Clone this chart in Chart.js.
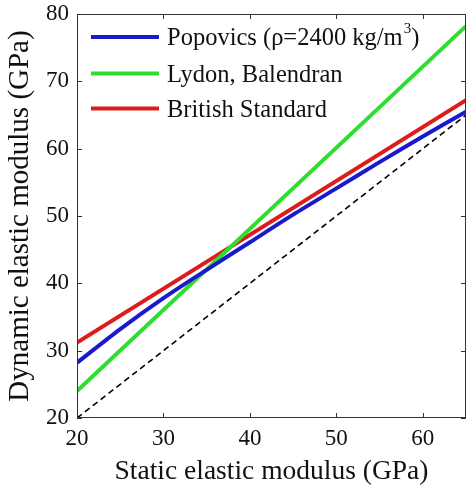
<!DOCTYPE html>
<html>
<head>
<meta charset="utf-8">
<script src="https://cdn.jsdelivr.net/npm/chart.js@4.4.0/dist/chart.umd.min.js"></script>
<style>
html,body{margin:0;padding:0;background:#fff;}
#wrap{width:474px;height:488px;position:relative;}
</style>
</head>
<body>
<div id="wrap"><canvas id="c" width="474" height="488"></canvas></div>
<script>
// Static elastic modulus (GPa) sample positions
const staticX = [20, 25, 30, 35, 40, 45, 50, 55, 60, 65];
// Dynamic elastic modulus (GPa)
const popovicsY = [28.2, 33.2, 37.8, 42.0, 46.1, 50.2, 54.1, 58.0, 61.8, 65.5];
const lydonX = [20, 65];
const lydonY = [24.0, 78.2];
const britishX = [20, 65];
const britishY = [31.2, 67.2];
const equalX = [20, 65];
const equalY = [20, 65];
const seriesLabels = ['Popovics (ρ=2400 kg/m³)', 'Lydon, Balendran', 'British Standard'];
const xTicks = [20, 30, 40, 50, 60];
const yTicks = [20, 30, 40, 50, 60, 70, 80];

const pts = (xs, ys) => xs.map((x, i) => ({x: x, y: ys[i]}));
const FONT = "'Liberation Serif', 'DejaVu Serif', serif";

const frame = {
  id: 'frame',
  afterDatasetsDraw(chart) {
    const {ctx, chartArea: a, scales} = chart;
    ctx.save();
    ctx.strokeStyle = '#333';
    ctx.lineWidth = 1;
    ctx.strokeRect(a.left + 0.5, a.top + 0.5, a.right - a.left - 1, a.bottom - a.top - 1);
    const L = 5;
    ctx.beginPath();
    xTicks.forEach(v => {
      const px = Math.round(scales.x.getPixelForValue(v)) + 0.5;
      ctx.moveTo(px, a.bottom); ctx.lineTo(px, a.bottom - L);
      ctx.moveTo(px, a.top); ctx.lineTo(px, a.top + L);
    });
    yTicks.forEach(v => {
      const py = Math.round(scales.y.getPixelForValue(v)) + 0.5;
      ctx.moveTo(a.left, py); ctx.lineTo(a.left + L, py);
      ctx.moveTo(a.right, py); ctx.lineTo(a.right - L, py);
    });
    ctx.stroke();
    // legend
    const rows = [23, 59.5, 94.5];
    chart.data.datasets.slice(0, 3).forEach((ds, i) => {
      const y = a.top + rows[i];
      ctx.strokeStyle = ds.borderColor;
      ctx.lineWidth = 4;
      ctx.beginPath();
      ctx.moveTo(a.left + 14, y); ctx.lineTo(a.left + 82, y);
      ctx.stroke();
      ctx.fillStyle = '#111';
      ctx.textBaseline = 'middle';
      ctx.textAlign = 'left';
      ctx.font = '24.5px ' + FONT;
      let tx = a.left + 90;
      const label = ds.label;
      const k = label.indexOf('³');
      if (k >= 0) {
        const pre = label.slice(0, k), post = label.slice(k + 1);
        ctx.fillText(pre, tx, y + 2);
        tx += ctx.measureText(pre).width;
        ctx.font = '15px ' + FONT;
        ctx.fillText('3', tx + 1, y - 8);
        tx += ctx.measureText('3').width + 1;
        ctx.font = '24.5px ' + FONT;
        ctx.fillText(post, tx, y + 2);
      } else {
        ctx.fillText(label, tx, y + 2);
      }
    });
    ctx.restore();
  }
};

new Chart(document.getElementById('c'), {
  type: 'line',
  data: {
    datasets: [
      {label: seriesLabels[0], data: pts(staticX, popovicsY), borderColor: '#1a1acc', borderWidth: 4, pointRadius: 0, tension: 0.3, fill: false},
      {label: seriesLabels[1], data: pts(lydonX, lydonY), borderColor: '#2fdd2f', borderWidth: 4, pointRadius: 0, fill: false},
      {label: seriesLabels[2], data: pts(britishX, britishY), borderColor: '#dd1c1c', borderWidth: 4, pointRadius: 0, fill: false},
      {label: 'equality', data: pts(equalX, equalY), borderColor: '#000', borderWidth: 1.6, borderDash: [6, 4], pointRadius: 0, fill: false}
    ]
  },
  options: {
    responsive: false,
    animation: false,
    layout: {padding: {top: 14, right: 8, left: 0, bottom: 0}},
    plugins: {legend: {display: false}, tooltip: {enabled: false}},
    scales: {
      x: {
        type: 'linear', min: 20, max: 65,
        afterBuildTicks: s => { s.ticks = xTicks.map(v => ({value: v})); },
        afterFit: s => { s.height = 70; s.paddingLeft = 0; s.paddingRight = 0; },
        grid: {display: false, drawTicks: false},
        border: {display: false},
        ticks: {color: '#111', font: {family: FONT, size: 23}, padding: 7, maxRotation: 0},
        title: {display: true, text: 'Static elastic modulus (GPa)', color: '#111', font: {family: FONT, size: 27.5}, padding: {top: 0, bottom: 0}}
      },
      y: {
        type: 'linear', min: 20, max: 80,
        afterBuildTicks: s => { s.ticks = yTicks.map(v => ({value: v})); },
        afterFit: s => { s.width = 77; s.paddingTop = 0; s.paddingBottom = 0; },
        grid: {display: false, drawTicks: false},
        border: {display: false},
        ticks: {color: '#111', font: {family: FONT, size: 23}, padding: 8},
        title: {display: true, text: 'Dynamic elastic modulus (GPa)', color: '#111', font: {family: FONT, size: 29}, padding: {top: 3, bottom: 0}}
      }
    }
  },
  plugins: [frame]
});
</script>
</body>
</html>
